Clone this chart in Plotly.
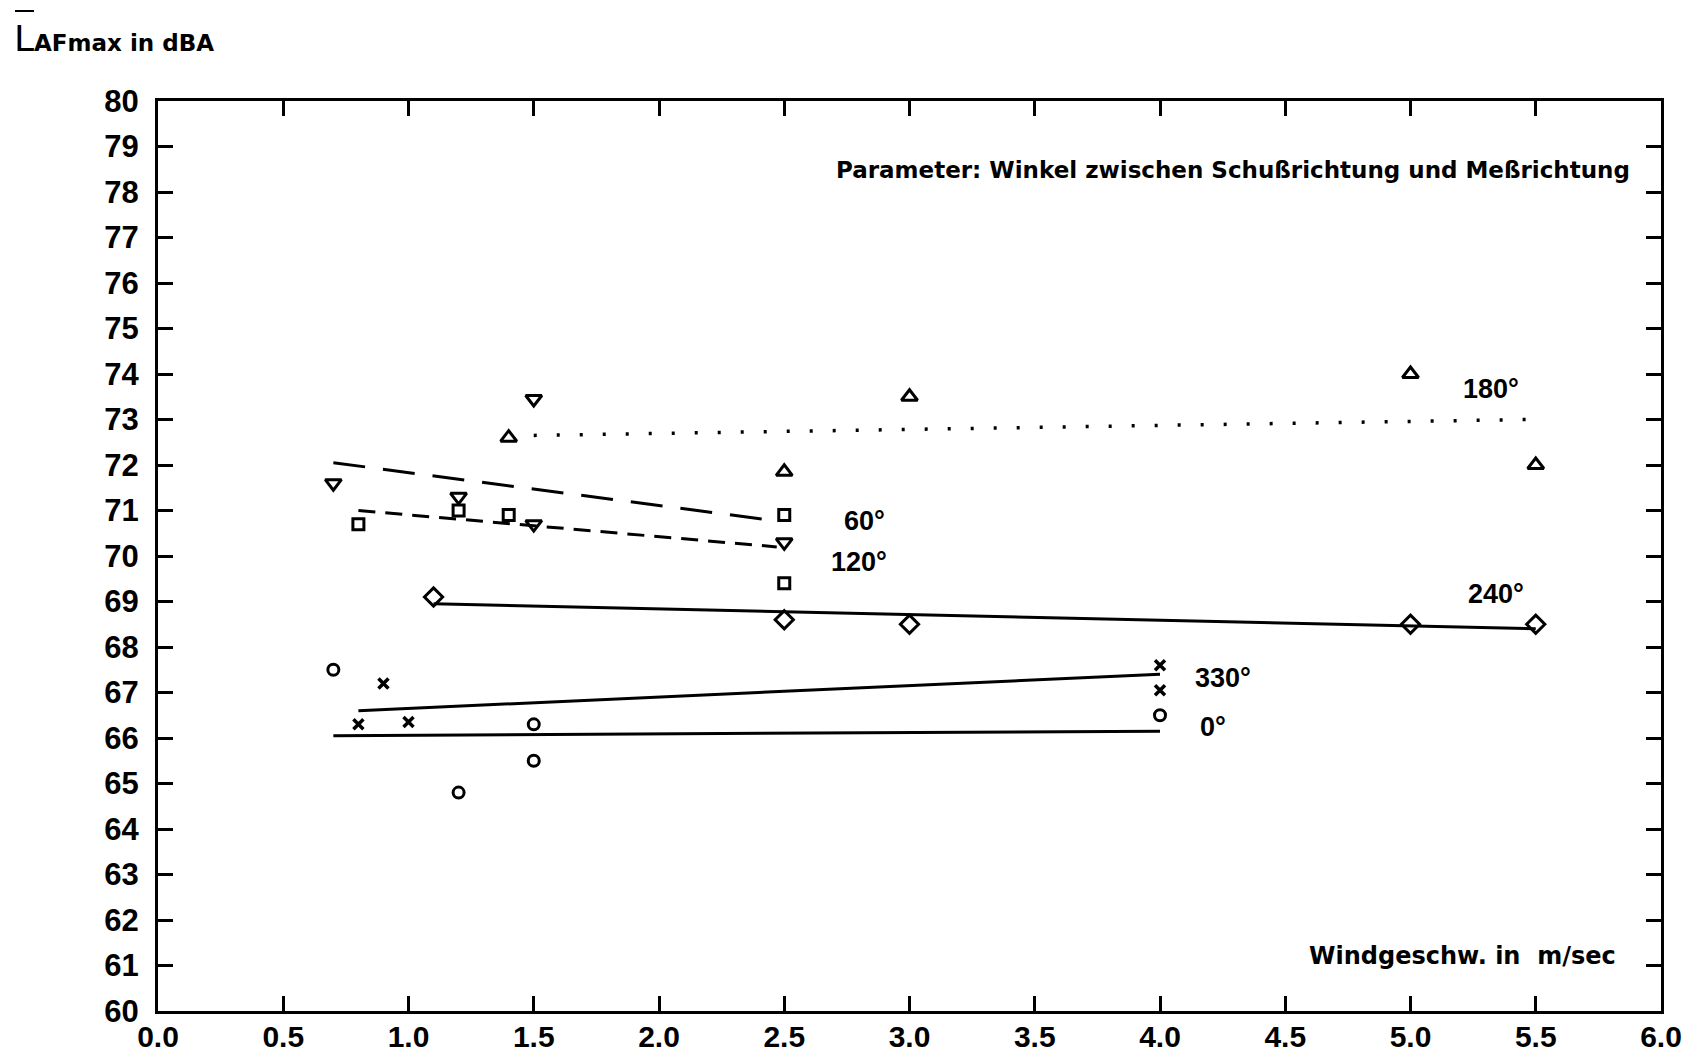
import plotly.graph_objects as go

# ---- data ----
x_0 = [0.7, 1.2, 1.5, 1.5, 4.0]
y_0 = [67.5, 64.8, 66.3, 65.5, 66.5]
fit_0_x = [0.7, 4.0]
fit_0_y = [66.05, 66.15]

x_330 = [0.8, 0.9, 1.0, 4.0, 4.0]
y_330 = [66.3, 67.2, 66.35, 67.6, 67.05]
fit_330_x = [0.8, 4.0]
fit_330_y = [66.6, 67.4]

x_240 = [1.1, 2.5, 3.0, 5.0, 5.5]
y_240 = [69.1, 68.6, 68.5, 68.5, 68.5]
fit_240_x = [1.1, 5.5]
fit_240_y = [68.95, 68.4]

x_180 = [1.4, 2.5, 3.0, 5.0, 5.5]
y_180 = [72.6, 71.85, 73.5, 74.0, 72.0]
fit_180_x = [1.5, 5.47]
fit_180_y = [72.65, 73.0]

x_120 = [0.7, 1.2, 1.5, 1.5, 2.5]
y_120 = [71.6, 71.3, 73.45, 70.7, 70.3]
fit_120_x = [0.7, 2.43]
fit_120_y = [72.05, 70.8]

x_60 = [0.8, 1.2, 1.4, 2.5, 2.5]
y_60 = [70.7, 71.0, 70.9, 70.9, 69.4]
fit_60_x = [0.8, 2.47]
fit_60_y = [71.0, 70.2]

labels = ["180°", "60°", "120°", "240°", "330°", "0°"]
label_x = [5.2, 2.73, 2.68, 5.22, 4.13, 4.15]
label_y = [73.67, 70.77, 69.87, 69.16, 67.32, 66.24]

x_ticks = [0.0, 0.5, 1.0, 1.5, 2.0, 2.5, 3.0, 3.5, 4.0, 4.5, 5.0, 5.5, 6.0]
y_ticks = list(range(60, 81))

FONT = "Liberation Sans"
FONT2 = "DejaVu Sans"
fig = go.Figure()

def line(xs, ys, dash, width=3):
    fig.add_trace(go.Scatter(x=xs, y=ys, mode="lines",
                             line=dict(color="black", width=width, dash=dash),
                             hoverinfo="skip", showlegend=False))

def pts(xs, ys, symbol, size=12, lw=2.5):
    fig.add_trace(go.Scatter(x=xs, y=ys, mode="markers",
                             marker=dict(symbol=symbol, size=size, color="black",
                                         line=dict(color="black", width=lw)),
                             showlegend=False))

line(fit_0_x, fit_0_y, "solid")
line(fit_330_x, fit_330_y, "solid")
line(fit_240_x, fit_240_y, "solid")
line(fit_180_x, fit_180_y, "3px,20px", width=3.5)
line(fit_120_x, fit_120_y, "32px,18px")
line(fit_60_x, fit_60_y, "17px,10px")

pts(x_0, y_0, "circle-open", size=11, lw=3)
pts(x_330, y_330, "x-thin-open", size=10, lw=3.5)
pts(x_240, y_240, "diamond-open", size=14, lw=3)
pts(x_180, y_180, "triangle-up-open", size=14, lw=3)
pts(x_120, y_120, "triangle-down-open", size=14, lw=3)
pts(x_60, y_60, "square-open", size=11, lw=3)

for t, lx, ly in zip(labels, label_x, label_y):
    fig.add_annotation(x=lx, y=ly, text=t, showarrow=False, xanchor="left",
                       yanchor="middle",
                       font=dict(family=FONT, size=27, color="black", weight="bold"))

fig.add_annotation(x=5.884, y=78.48, text="Parameter: Winkel zwischen Schußrichtung und Meßrichtung",
                   showarrow=False, xanchor="right", yanchor="middle",
                   font=dict(family=FONT2, size=23, color="black", weight="bold"))
fig.add_annotation(x=5.83, y=61.21, text="Windgeschw. in\u00a0\u00a0m/sec",
                   showarrow=False, xanchor="right", yanchor="middle",
                   font=dict(family=FONT2, size=24, color="black", weight="bold"))

# y-axis title with overlined L
fig.add_annotation(xref="paper", yref="paper", x=(12 - 158) / 1503, y=(1011 - 38) / 910,
                   text="<span style='font-size:36px;font-weight:normal'>L</span>AFmax in dBA",
                   showarrow=False, xanchor="left", yanchor="middle",
                   font=dict(family=FONT2, size=23, color="black", weight="bold"))
fig.add_shape(type="line", xref="paper", yref="paper",
              x0=(15 - 158) / 1503, x1=(34 - 158) / 1503,
              y0=(1011 - 11) / 910, y1=(1011 - 11) / 910,
              line=dict(color="black", width=2))

axis_common = dict(showgrid=False, zeroline=False, showline=True, linecolor="black",
                   linewidth=3, mirror="ticks", ticks="inside", ticklen=15,
                   tickwidth=2.5, tickcolor="black")

fig.update_xaxes(range=[0, 6], tickvals=x_ticks, ticktext=[f"{v:.1f}" for v in x_ticks],
                 ticklabelstandoff=-3,
                 tickfont=dict(family=FONT, size=30, color="black", weight="bold"),
                 **axis_common)
fig.update_yaxes(range=[60, 80], tickvals=y_ticks, ticktext=[str(v) for v in y_ticks],
                 ticklabelstandoff=10,
                 tickfont=dict(family=FONT, size=31, color="black", weight="bold"),
                 **axis_common)

fig.update_layout(width=1708, height=1060, plot_bgcolor="white", paper_bgcolor="white",
                  margin=dict(l=158, r=47, t=101, b=49, autoexpand=False),
                  showlegend=False)

fig.write_html("out.html")
